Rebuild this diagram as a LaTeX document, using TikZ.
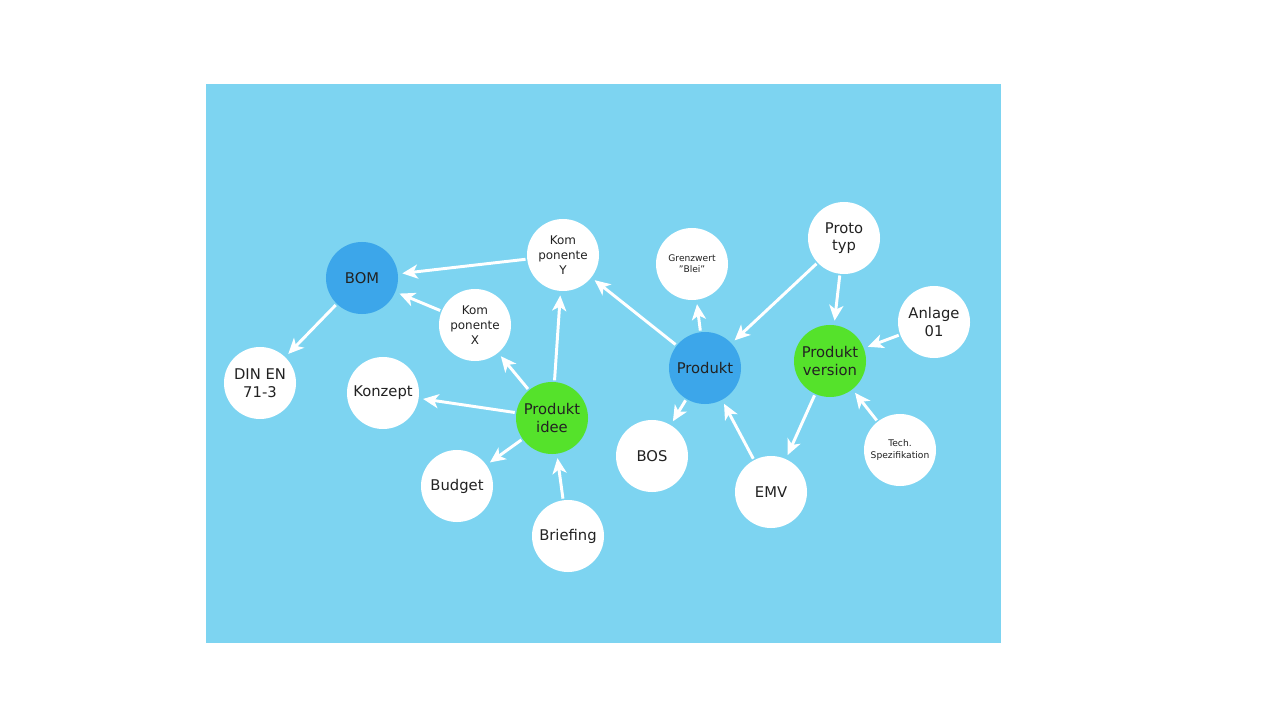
\documentclass[tikz,border=0pt]{standalone}
\usepackage{fontspec}
\setmainfont{DejaVu Sans}
\usetikzlibrary{arrows.meta,positioning}
\definecolor{himmel}{HTML}{7DD4F1}
\definecolor{knotenblau}{HTML}{3CA6EA}
\definecolor{knotengruen}{HTML}{55E22B}
\definecolor{schrift}{HTML}{222222}

\begin{document}
\begin{tikzpicture}[x=0.025cm, y=-0.025cm,
    knoten/.style={circle, fill=white, minimum size=1.8cm, inner sep=0pt,
        align=center, text=schrift, font=\fontsize{8.5}{10.5}\selectfont},
    gross/.style={font=\fontsize{10.5}{12.5}\selectfont},
    klein/.style={font=\fontsize{6.5}{8}\selectfont},
    blau/.style={knoten, gross, fill=knotenblau},
    gruen/.style={knoten, gross, fill=knotengruen},
    pfeil/.style={draw=white, line width=2.1pt,
        -{Stealth[length=11pt, width=10pt, inset=3pt]}, shorten >=3pt, shorten <=1pt}]
    \useasboundingbox (0,0) rectangle (1280,721);
    % Hintergrund
    \fill[himmel] (206,84) rectangle (1001,643);

    % linke Gruppe
    \node[blau] (bom) at (362,278) {BOM};
    \node[knoten, gross] (din) at (260,383) {DIN EN\\71-3};
    \node[knoten, gross] (konzept) at (383,393) {Konzept};
    \node[knoten] (kompx) at (475,325) {Kom\\ponente\\X};
    \node[knoten] (kompy) at (563,255) {Kom\\ponente\\Y};
    \node[gruen] (idee) at (552,418) {Produkt\\idee};
    \node[knoten, gross] (budget) at (457,486) {Budget};
    \node[knoten, gross] (briefing) at (568,536) {Briefing};

    % rechte Gruppe
    \node[knoten, klein] (blei) at (692,264) {Grenzwert\\"Blei"};
    \node[blau] (produkt) at (705,368) {Produkt};
    \node[knoten, gross] (bos) at (652,456) {BOS};
    \node[knoten, gross] (emv) at (771,492) {EMV};
    \node[knoten, gross] (proto) at (844,238) {Proto\\typ};
    \node[knoten, gross] (anlage) at (934,322) {Anlage\\01};
    \node[gruen] (version) at (830,361) {Produkt\\version};
    \node[knoten, klein] (spez) at (900,450) {Tech.\\Spezifikation};

    % Verbindungen
    \foreach \von/\nach in {kompy/bom, kompx/bom, bom/din,
        idee/konzept, idee/kompx, idee/kompy, idee/budget, briefing/idee,
        produkt/kompy, produkt/blei, produkt/bos, emv/produkt,
        proto/produkt, proto/version, anlage/version, version/emv,
        spez/version}{
        \draw[pfeil] (\von) -- (\nach);
    }
\end{tikzpicture}
\end{document}
